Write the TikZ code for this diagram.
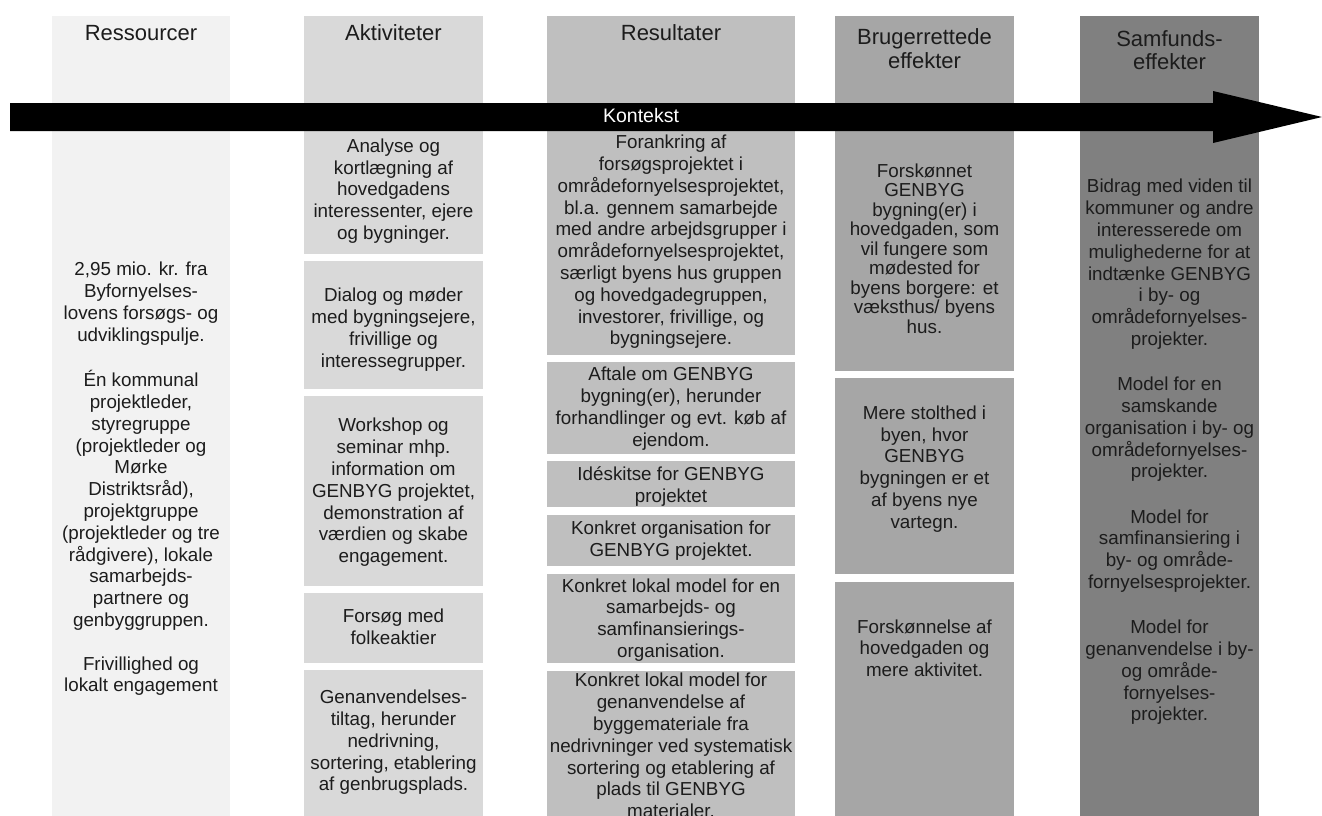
\documentclass[tikz,border=0pt]{standalone}
\usepackage{fontspec}
\setmainfont{Liberation Sans}
\definecolor{c1}{HTML}{F2F2F2}
\definecolor{c2}{HTML}{D9D9D9}
\definecolor{c3}{HTML}{BFBFBF}
\definecolor{c4}{HTML}{A6A6A6}
\definecolor{c5}{HTML}{808080}
\definecolor{txt}{HTML}{1C1C1C}
\newcommand{\nxl}{\strut\\\strut}
\newcommand{\gapl}[1]{\strut\\[#1]\strut}
\begin{document}
\begin{tikzpicture}[x=1pt,y=-1pt,
  hdr/.style={font=\fontsize{22}{24}\selectfont, text=txt, inner sep=0pt, anchor=base},
  body/.style={font=\fontsize{18.8}{21.8}\selectfont, text=txt, align=center, inner sep=0pt, anchor=center},
  tight/.style={font=\fontsize{18.8}{19.5}\selectfont},
  ctx/.style={font=\fontsize{19.5}{22}\selectfont, text=white, inner sep=0pt, anchor=base}
]
\clip (0,0) rectangle (1322,816);
% columns
\fill[c1] (52,16) rectangle (230,816);
\fill[c2] (304,16) rectangle (483,254);
\fill[c2] (304,261) rectangle (483,389);
\fill[c2] (304,396) rectangle (483,586);
\fill[c2] (304,593) rectangle (483,663);
\fill[c2] (304,670) rectangle (483,816);
\fill[c3] (547,16) rectangle (795,355);
\fill[c3] (547,362) rectangle (795,454);
\fill[c3] (547,461) rectangle (795,507);
\fill[c3] (547,515) rectangle (795,566);
\fill[c3] (547,574) rectangle (795,663);
\fill[c3] (547,671) rectangle (795,816);
\fill[c4] (835,16) rectangle (1014,371);
\fill[c4] (835,378) rectangle (1014,574);
\fill[c4] (835,582) rectangle (1014,816);
\fill[c5] (1080,16) rectangle (1259,816);
% arrow
\fill[black] (10,103) -- (1213,103) -- (1213,91) -- (1322,117) -- (1213,143) -- (1213,131) -- (10,131) -- cycle;
\node[ctx] (kontekst) at (641,122) {Kontekst};
% headers
\node[hdr] (h1) at (141,41) {Ressourcer};
\node[hdr] (h2) at (393.5,41) {Aktiviteter};
\node[hdr] (h3) at (671,41) {Resultater};
\node[hdr] (h4a) at (924.5,45) {Brugerrettede};
\node[hdr] (h4b) at (924.5,69) {effekter};
\node[hdr] (h5a) at (1169.5,47) {Samfunds-};
\node[hdr] (h5b) at (1169.5,70) {effekter};
% column 1
\node[body] (r1) at (141,479.5) {\strut 2,95 mio. kr. fra\nxl Byfornyelses-\nxl lovens forsøgs- og\nxl udviklingspulje.\gapl{21.8pt}Én kommunal\nxl projektleder,\nxl styregruppe\nxl (projektleder og\nxl Mørke\nxl Distriktsråd),\nxl projektgruppe\nxl (projektleder og tre\nxl rådgivere), lokale\nxl samarbejds-\nxl partnere og\nxl genbyggruppen.\gapl{21.8pt}Frivillighed og\nxl lokalt engagement\strut};
% column 2
\node[body] (a1) at (393.5,191.5) {\strut Analyse og\nxl kortlægning af\nxl hovedgadens\nxl interessenter, ejere\nxl og bygninger.\strut};
\node[body] (a2) at (393.5,330) {\strut Dialog og møder\nxl med bygningsejere,\nxl frivillige og\nxl interessegrupper.\strut};
\node[body] (a3) at (393.5,493) {\strut Workshop og\nxl seminar mhp.\nxl information om\nxl GENBYG projektet,\nxl demonstration af\nxl værdien og skabe\nxl engagement.\strut};
\node[body] (a4) at (393.5,629) {\strut Forsøg med\nxl folkeaktier\strut};
\node[body] (a5) at (393.5,743) {\strut Genanvendelses-\nxl tiltag, herunder\nxl nedrivning,\nxl sortering, etablering\nxl af genbrugsplads.\strut};
% column 3
\node[body] (s1) at (671,242.5) {\strut Forankring af\nxl forsøgsprojektet i\nxl områdefornyelsesprojektet,\nxl bl.a. gennem samarbejde\nxl med andre arbejdsgrupper i\nxl områdefornyelsesprojektet,\nxl særligt byens hus gruppen\nxl og hovedgadegruppen,\nxl investorer, frivillige, og\nxl bygningsejere.\strut};
\node[body] (s2) at (671,409) {\strut Aftale om GENBYG\nxl bygning(er), herunder\nxl forhandlinger og evt. køb af\nxl ejendom.\strut};
\node[body] (s3) at (671,487.5) {\strut Idéskitse for GENBYG\nxl projektet\strut};
\node[body] (s4) at (671,541) {\strut Konkret organisation for\nxl GENBYG projektet.\strut};
\node[body] (s5) at (671,620.5) {\strut Konkret lokal model for en\nxl samarbejds- og\nxl samfinansierings-\nxl organisation.\strut};
\node[body] (s6) at (671,748) {\strut Konkret lokal model for\nxl genanvendelse af\nxl byggemateriale fra\nxl nedrivninger ved systematisk\nxl sortering og etablering af\nxl plads til GENBYG\nxl materialer.\strut};
% column 4
\node[body,tight] (b1) at (924.5,251.5) {\strut Forskønnet\nxl GENBYG\nxl bygning(er) i\nxl hovedgaden, som\nxl vil fungere som\nxl mødested for\nxl byens borgere: et\nxl væksthus/ byens\nxl hus.\strut};
\node[body] (b2) at (924.5,469.5) {\strut Mere stolthed i\nxl byen, hvor\nxl GENBYG\nxl bygningen er et\nxl af byens nye\nxl vartegn.\strut};
\node[body] (b3) at (924.5,650.5) {\strut Forskønnelse af\nxl hovedgaden og\nxl mere aktivitet.\strut};
% column 5
\node[body] (e1) at (1169.5,452.5) {\strut Bidrag med viden til\nxl kommuner og andre\nxl interesserede om\nxl mulighederne for at\nxl indtænke GENBYG\nxl i by- og\nxl områdefornyelses-\nxl projekter.\gapl{23.4pt}Model for en\nxl samskande\nxl organisation i by- og\nxl områdefornyelses-\nxl projekter.\gapl{23.4pt}Model for\nxl samfinansiering i\nxl by- og område-\nxl fornyelsesprojekter.\gapl{23.4pt}Model for\nxl genanvendelse i by-\nxl og område-\nxl fornyelses-\nxl projekter.\strut};
\end{tikzpicture}
\end{document}
